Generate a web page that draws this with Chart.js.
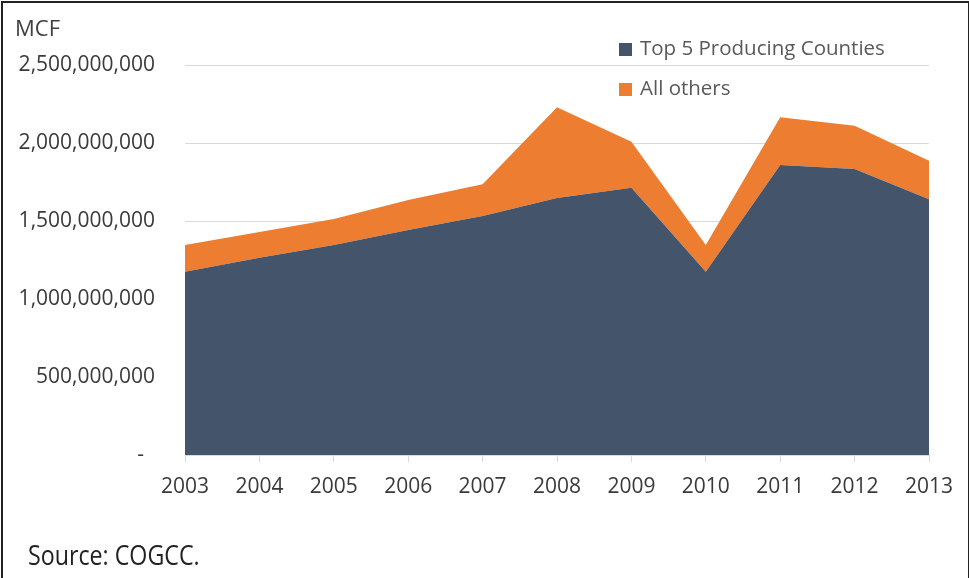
<!DOCTYPE html>
<html>
<head>
<meta charset="utf-8">
<script src="https://cdn.jsdelivr.net/npm/chart.js@4"></script>
<style>
  body { margin: 0; background: #fff; }
  .wrap { position: relative; width: 969px; height: 578px; overflow: hidden; font-family: 'Open Sans', sans-serif; }
  .frame { position: absolute; left: 1px; top: 1px; width: 965px; height: 590px; border: 2px solid #222; pointer-events: none; }
  canvas { position: absolute; left: 0; top: 0; }
  .unit { position: absolute; left: 15px; top: 12px; font-size: 22px; color: #404040; }
  .source { position: absolute; left: 28px; top: 536px; font-size: 27px; color: #222; transform: scaleX(0.86); transform-origin: left top; white-space: nowrap; }
  .legend { position: absolute; left: 619px; top: 33px; font-size: 20.5px; color: #595959; }
  .legend div { height: 40px; line-height: 28px; white-space: nowrap; }
  .legend span { display: inline-block; width: 13px; height: 13px; margin-right: 8px; vertical-align: -1px; }
</style>
</head>
<body>
<div class="wrap">
  <canvas id="gasChart" width="969" height="578"></canvas>
  <div class="unit">MCF</div>
  <div class="legend">
    <div><span style="background:#44546a"></span>Top 5 Producing Counties</div>
    <div><span style="background:#ed7d31"></span>All others</div>
  </div>
  <div class="source">Source: COGCC.</div>
  <div class="frame"></div>
</div>
<script>
const years = ['2003', '2004', '2005', '2006', '2007', '2008', '2009', '2010', '2011', '2012', '2013']
// gas production, MCF
const topFive = [1175e6, 1265e6, 1346e6, 1442e6, 1532e6, 1647e6, 1713e6, 1175e6, 1859e6, 1833e6, 1639e6]
const allOthers = [171e6, 164e6, 167e6, 193e6, 203e6, 582e6, 295e6, 171e6, 306e6, 278e6, 248e6]
const yTicks = [0, 500e6, 1000e6, 1500e6, 2000e6, 2500e6]

Chart.defaults.font.family = "'Open Sans', sans-serif"
Chart.defaults.color = '#3a3a3a'

const ctx = document.getElementById('gasChart')
new Chart(ctx, {
  type: 'line',
  data: {
    labels: years,
    datasets: [
      {
        label: 'Top 5 Producing Counties',
        data: topFive,
        backgroundColor: '#44546a',
        borderColor: '#44546a',
        borderWidth: 0,
        fill: 'origin',
        pointRadius: 0,
      },
      {
        label: 'All others',
        data: allOthers,
        backgroundColor: '#ed7d31',
        borderColor: '#ed7d31',
        borderWidth: 0,
        fill: '-1',
        pointRadius: 0,
      },
    ],
  },
  options: {
    responsive: false,
    animation: false,
    layout: { padding: { top: 65, right: 40, bottom: 73, left: 0 } },
    plugins: { legend: { display: false }, tooltip: { enabled: false } },
    scales: {
      x: {
        grid: { drawOnChartArea: false, color: '#d9d9d9', tickLength: 7 },
        border: { color: '#d9d9d9' },
        ticks: { font: { size: 21 }, padding: 12, maxRotation: 0 },
        afterFit: (scale) => { scale.height = 50 },
      },
      y: {
        stacked: true,
        min: 0,
        max: 2500e6,
        afterBuildTicks: (scale) => { scale.ticks = yTicks.map((v) => ({ value: v })) },
        grid: { color: '#d9d9d9', drawTicks: false },
        border: { display: false },
        ticks: {
          font: { size: 21 },
          padding: 30,
          callback: (v) => (v === 0 ? '-  ' : v.toLocaleString('en-US')),
        },
        afterFit: (scale) => { scale.width = 185 },
      },
    },
  },
})
</script>
</body>
</html>
